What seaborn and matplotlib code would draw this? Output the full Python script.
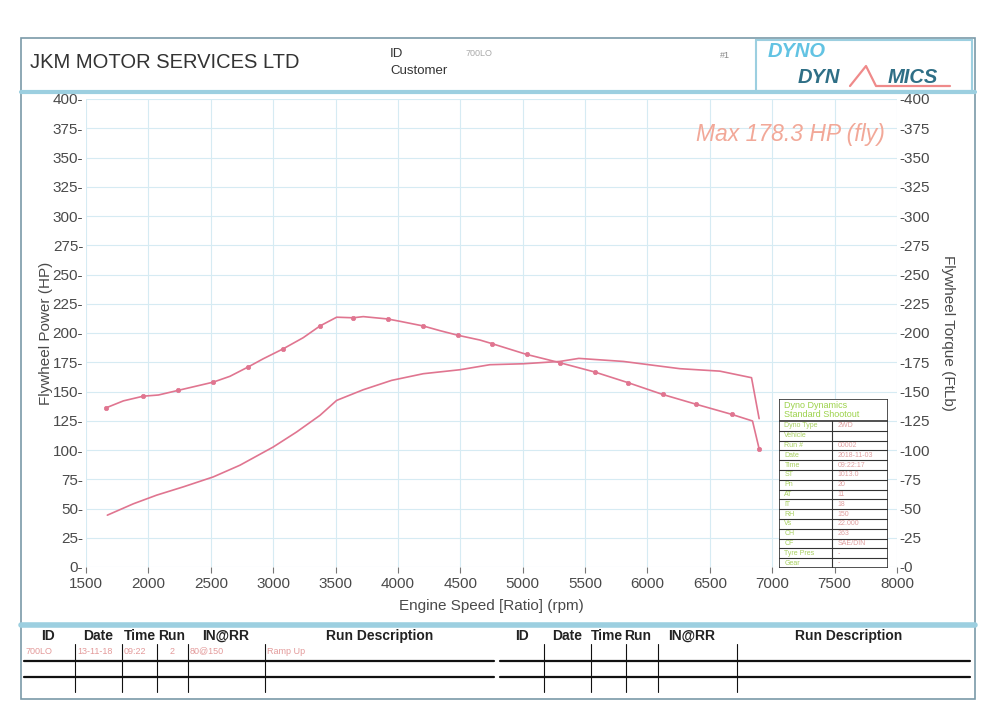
import matplotlib
matplotlib.use("Agg")
import matplotlib.pyplot as plt
from matplotlib.lines import Line2D
from matplotlib.patches import Rectangle
import seaborn as sns
import pandas as pd

# ---------------- data ----------------
rpm_torque = [1660, 1800, 1959, 2080, 2240, 2400, 2520, 2654, 2800, 2921, 3081, 3241,
              3375, 3509, 3642, 3722, 3917, 4016, 4203, 4337, 4483, 4657, 4751, 5031,
              5298, 5579, 5846, 6121, 6393, 6674, 6842, 6895]
torque_ftlb = [136, 142, 146, 147, 151, 155, 158, 163, 171, 178, 186.5, 196,
               206, 213.5, 213, 214, 212, 210, 206, 202, 198, 194, 191, 181.7,
               174.6, 166.6, 157.5, 147.5, 139, 130.5, 124.8, 101]
torque_marker_rpm = [1660, 1959, 2240, 2520, 2800, 3081, 3375, 3642, 3917, 4203, 4483,
                     4751, 5031, 5298, 5579, 5846, 6121, 6393, 6674, 6895]

rpm_power = [1671, 1879, 2066, 2280, 2520, 2734, 3001, 3188, 3375, 3509, 3722, 3949,
             4203, 4497, 4737, 5004, 5298, 5450, 5806, 6260, 6580, 6834, 6895]
power_hp = [44.3, 54, 61.4, 68.5, 77, 87, 102.6, 115.4, 129.6, 142.4, 151.5, 159.5,
            165.2, 168.6, 172.9, 173.7, 175.7, 178.3, 175.7, 169.5, 167.4, 161.8, 126.8]

x_ticks = list(range(1500, 8001, 500))
y_ticks = list(range(0, 401, 25))

table_headers = ["ID", "Date", "Time", "Run", "IN@RR", "Run Description"]
run_row = ["700LO", "13-11-18", "09:22", "2", "80@150", "Ramp Up"]

inset_labels = ["Dyno Type", "Vehicle", "Run #", "Date", "Time", "ST", "Pn", "AT",
                "IT", "RH", "Vs", "CH", "CF", "Tyre Pres", "Gear"]
inset_values = ["2WD", "", "00002", "2018-11-03", "09:22:17", "1013.0", "20", "11",
                "18", "150", "22.000", "263", "SAE/DIN", "-", "-"]

# ---------------- style ----------------
sns.set_theme(style="white")
plt.rcParams['font.family'] = ['Liberation Sans', 'DejaVu Sans']

W, H = 1000, 708
fig = plt.figure(figsize=(10, 7.08), dpi=100)
fig.patch.set_facecolor("white")

def fx(x):
    return x / W

def fy(y):
    return 1 - y / H

curve_col = "#e07590"
grid_col = "#d6ebf3"
frame_col = "#9ccfe0"
tick_col = "#4a4a4a"

# ---------------- main axes ----------------
ax = fig.add_axes([fx(86), fy(567), fx(897) - fx(86), fy(99) - fy(567)])
ax.set_facecolor("none")

df_t = pd.DataFrame({"rpm": rpm_torque, "val": torque_ftlb})
df_p = pd.DataFrame({"rpm": rpm_power, "val": power_hp})

sns.lineplot(data=df_t, x="rpm", y="val", ax=ax, color=curve_col, lw=1.2,
             estimator=None, sort=False)
sns.lineplot(data=df_p, x="rpm", y="val", ax=ax, color=curve_col, lw=1.2,
             estimator=None, sort=False)
mk = df_t[df_t["rpm"].isin(torque_marker_rpm)]
sns.scatterplot(data=mk, x="rpm", y="val", ax=ax, color=curve_col, s=10,
                edgecolor=curve_col, linewidth=0.5, zorder=5)

ax.set_xlim(1500, 8000)
ax.set_ylim(0, 400)
ax.set_xticks(x_ticks)
ax.set_xticklabels([str(v) for v in x_ticks], fontsize=11, color=tick_col)
ax.set_yticks(y_ticks)
ax.set_yticklabels([f"{v}-" for v in y_ticks], fontsize=11, color=tick_col)
ax.tick_params(axis="x", length=4, width=0.8, color="#777777", pad=3, direction="out",
               bottom=True)
ax.tick_params(axis="y", length=0, pad=2)
ax.grid(True, color=grid_col, lw=0.8)
for s in ax.spines.values():
    s.set_visible(False)
ax.set_xlabel("Engine Speed [Ratio] (rpm)", fontsize=11, color=tick_col, labelpad=6)
ax.set_ylabel("Flywheel Power (HP)", fontsize=11, color=tick_col, labelpad=0)

ax2 = ax.twinx()
ax2.set_ylim(0, 400)
ax2.set_yticks(y_ticks)
ax2.set_yticklabels([f"-{v}" for v in y_ticks], fontsize=11, color=tick_col)
ax2.tick_params(axis="y", length=0, pad=2)
for s in ax2.spines.values():
    s.set_visible(False)
ax2.set_ylabel("Flywheel Torque (FtLb)", fontsize=11, color=tick_col, rotation=270,
               labelpad=18)

ax.text(0.985, 0.925, "Max 178.3 HP (fly)", transform=ax.transAxes, ha="right",
        va="center", fontsize=16.5, style="italic", color="#f2a898")

# ---------------- sheet frame ----------------
fig.add_artist(Rectangle((fx(21), fy(699)), fx(975) - fx(21), fy(38) - fy(699),
                         transform=fig.transFigure, fill=False, ec="#7a9aa8", lw=1.2))
fig.add_artist(Line2D([fx(21), fx(975)], [fy(92), fy(92)], transform=fig.transFigure,
                      color=frame_col, lw=3))
fig.add_artist(Line2D([fx(21), fx(975)], [fy(625), fy(625)], transform=fig.transFigure,
                      color=frame_col, lw=4))

# ---------------- header ----------------
fig.text(fx(30), fy(63), "JKM MOTOR SERVICES LTD", fontsize=14.5, color="#333333",
         va="center", ha="left")
fig.text(fx(390), fy(54), "ID", fontsize=9.5, color="#333333", va="center")
fig.text(fx(390), fy(71), "Customer", fontsize=9.5, color="#333333", va="center")
fig.text(fx(466), fy(54), "700LO", fontsize=6.5, color="#aaaaaa", va="center")
fig.text(fx(720), fy(55), "#1", fontsize=6.5, color="#888888", va="center")

# logo
fig.add_artist(Rectangle((fx(756), fy(91)), fx(972) - fx(756), fy(40) - fy(91),
                         transform=fig.transFigure, fill=False, ec=frame_col, lw=1.5))
fig.text(fx(768), fy(57), "DYNO", fontsize=14.5, fontweight="bold", style="italic",
         color="#62c3e3", va="baseline")
fig.text(fx(798), fy(83), "DYN", fontsize=14.5, fontweight="bold", style="italic",
         color="#2f6f86", va="baseline")
fig.text(fx(888), fy(83), "MICS", fontsize=14.5, fontweight="bold", style="italic",
         color="#2f6f86", va="baseline")
fig.add_artist(Line2D([fx(850), fx(866), fx(876), fx(950)],
                      [fy(86), fy(66), fy(86), fy(86)], transform=fig.transFigure,
                      color="#ef8a8a", lw=1.6))

# ---------------- bottom run tables ----------------
def run_table(x0, x1, vlines, header_x, row=None):
    for hx, h in zip(header_x, table_headers):
        fig.text(fx(hx), fy(636), h, fontsize=10, fontweight="bold", color="#222222",
                 ha="center", va="center")
    for yy in (661, 677):
        fig.add_artist(Line2D([fx(x0), fx(x1)], [fy(yy), fy(yy)],
                              transform=fig.transFigure, color="#111111", lw=1.6))
    for vx in vlines:
        fig.add_artist(Line2D([fx(vx), fx(vx)], [fy(644), fy(692)],
                              transform=fig.transFigure, color="#111111", lw=0.8))
    if row is not None:
        row_x = [x0 + 2, vlines[0] + 2, vlines[1] + 2, (vlines[2] + vlines[3]) / 2,
                 vlines[3] + 2, vlines[4] + 2]
        for i, (rx, v) in enumerate(zip(row_x, row)):
            fig.text(fx(rx), fy(651), v, fontsize=6.5, color="#e39a9a",
                     ha="center" if i == 3 else "left", va="center")

run_table(24, 494, [75, 122, 157, 188, 265], [48, 98, 140, 172, 226, 380], run_row)
run_table(500, 970, [544, 591, 626, 658, 737], [522, 567, 607, 638, 692, 849])

# ---------------- inset shootout table ----------------
iax = fig.add_axes([fx(779), fy(568), fx(888) - fx(779), fy(399) - fy(568)])
iax.set_xlim(0, 1)
iax.set_ylim(0, 1)
iax.axis("off")
iax.add_patch(Rectangle((0, 0), 1, 1, fill=True, fc="white", ec="#333333", lw=1.2))
n = len(inset_labels)
title_h = 0.13
row_h = (1 - title_h) / n
iax.plot([0, 1], [1 - title_h, 1 - title_h], color="#333333", lw=1.2)
iax.plot([0.49, 0.49], [0, 1 - title_h], color="#333333", lw=0.8)
for i in range(1, n):
    yy = 1 - title_h - i * row_h
    iax.plot([0, 1], [yy, yy], color="#333333", lw=0.8)
iax.text(0.05, 1 - title_h / 2, "Dyno Dynamics\nStandard Shootout", fontsize=6.5,
         color="#9cd24a", va="center", ha="left", linespacing=0.95)
for i, (lab, val) in enumerate(zip(inset_labels, inset_values)):
    yc = 1 - title_h - (i + 0.5) * row_h
    iax.text(0.05, yc, lab, fontsize=5, color="#a8d060", va="center")
    iax.text(0.54, yc, val, fontsize=5, color="#e0a0a0", va="center")

fig.savefig("out.png", dpi=100, facecolor="white")
